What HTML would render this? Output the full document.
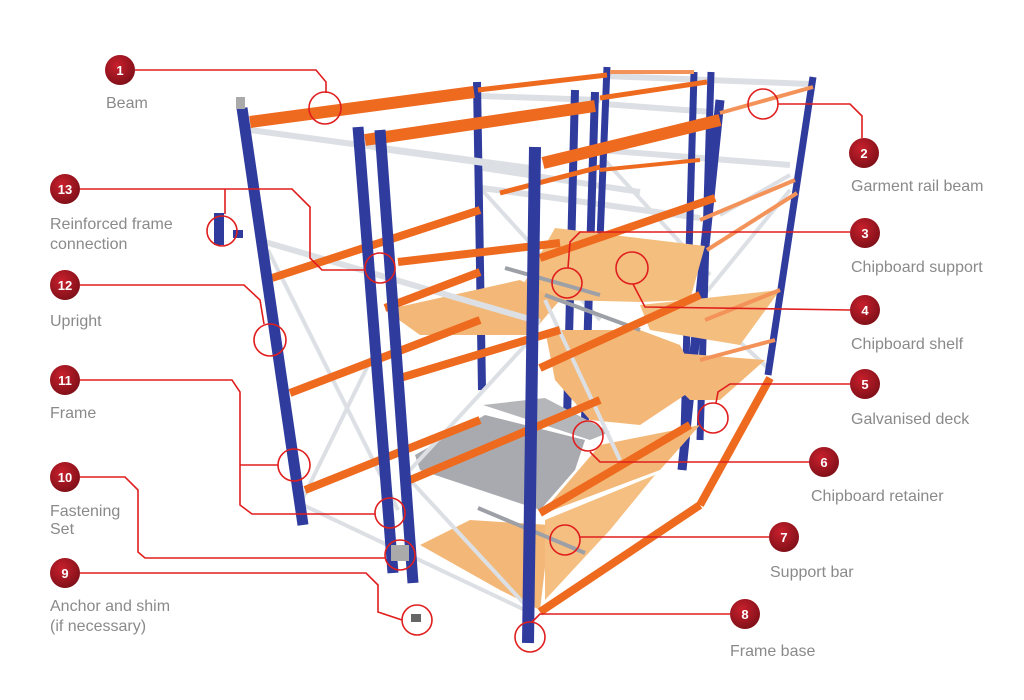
<!DOCTYPE html>
<html><head><meta charset="utf-8"><style>
html,body{margin:0;padding:0;background:#fff;}
svg{display:block;}
text{font-family:"Liberation Sans",sans-serif;}
.lb{fill:#8a8a8a;font-size:16px;}
.n{fill:#fff;font-size:13px;font-weight:bold;text-anchor:middle;}
.c{fill:none;stroke:#e01e1e;stroke-width:1.6;}
.up{stroke:#2f3c9e;stroke-width:11;}
.bu{stroke:#2f3c9e;stroke-width:8;}
.bm{stroke:#ee6a1f;stroke-width:8;}
.bt{stroke:#ee6a1f;stroke-width:12;}
.bl{stroke:#f3935a;stroke-width:4;}
.br{stroke:#dcdfe4;stroke-width:6;}
.bs{stroke:#dcdfe4;stroke-width:4;}
</style></head><body>
<svg width="1024" height="700" viewBox="0 0 1024 700">
<defs><radialGradient id="g" cx="40%" cy="35%" r="70%"><stop offset="0" stop-color="#c8202c"/><stop offset="1" stop-color="#7d0f18"/></radialGradient></defs>
<rect width="1024" height="700" fill="#fff"/>
<!-- back whites -->
<line class="br" x1="605" y1="76" x2="810" y2="84"/>
<line class="br" x1="480" y1="96" x2="600" y2="100"/>
<line class="br" x1="603" y1="104" x2="712" y2="112"/>
<line class="br" x1="600" y1="150" x2="790" y2="165"/>
<line class="br" x1="483" y1="168" x2="640" y2="192"/>
<line class="br" x1="482" y1="188" x2="700" y2="218"/>
<line class="bs" x1="482" y1="190" x2="600" y2="320"/>
<line class="bs" x1="600" y1="155" x2="710" y2="275"/>
<line class="bs" x1="720" y1="215" x2="790" y2="175"/>
<line class="bs" x1="700" y1="300" x2="790" y2="190"/>
<line class="bs" x1="700" y1="305" x2="770" y2="370"/>
<!-- back uprights -->
<line class="bu" x1="477" y1="82" x2="482" y2="390"/>
<line class="bu" x1="575" y1="90" x2="567" y2="420"/>
<line class="bu" x1="595" y1="92" x2="585" y2="420"/>
<line class="bu" x1="607" y1="67" x2="600" y2="240" style="stroke-width:7"/>
<line class="bu" x1="694" y1="72" x2="683" y2="470" style="stroke-width:7"/>
<line class="bu" x1="711" y1="72" x2="700" y2="440" style="stroke-width:7"/>
<line class="bu" x1="720" y1="100" x2="682" y2="470" style="stroke-width:9"/>
<line class="bu" x1="813" y1="77" x2="768" y2="375" style="stroke-width:7"/>
<!-- shelves -->
<polygon points="555,228 705,246 690,300 640,302 560,300 520,290" fill="#f4be7e"/>
<polygon points="640,305 780,290 740,345 650,330" fill="#f4be7e"/>
<polygon points="385,310 520,280 560,300 530,335 420,335" fill="#f3b877"/>
<polygon points="545,330 640,330 680,345 700,385 640,425 590,420 555,380" fill="#f3b877"/>
<polygon points="640,350 765,360 720,400 690,400" fill="#f3b877"/>
<polygon points="415,455 485,415 585,440 575,470 540,510 420,470" fill="#a9aaaf"/>
<polygon points="483,405 545,398 610,432 590,440" fill="#b5b6ba"/>
<polygon points="600,445 700,425 660,470 540,515" fill="#f3b877"/>
<polygon points="420,545 470,520 550,525 540,610 500,590" fill="#f3b877"/>
<polygon points="545,520 655,475 610,530 545,600" fill="#f4bf80"/>
<!-- front-left frame braces -->
<line class="br" x1="250" y1="130" x2="530" y2="168"/>
<line class="br" x1="375" y1="148" x2="535" y2="170"/>
<line class="br" x1="265" y1="242" x2="540" y2="322"/>
<line class="bs" x1="268" y1="250" x2="398" y2="510"/>
<line class="bs" x1="303" y1="498" x2="378" y2="345"/>
<line class="bs" x1="303" y1="505" x2="525" y2="610"/>
<line class="bs" x1="410" y1="480" x2="530" y2="610"/>
<line class="bs" x1="410" y1="470" x2="530" y2="340"/>
<line class="bs" x1="545" y1="300" x2="620" y2="460"/>
<!-- support bars -->
<line stroke="#9da0a6" stroke-width="4" x1="478" y1="508" x2="585" y2="553"/>
<line stroke="#9da0a6" stroke-width="4" x1="505" y1="268" x2="600" y2="295"/>
<line stroke="#9da0a6" stroke-width="4" x1="545" y1="295" x2="640" y2="330"/>
<!-- orange beams -->
<line class="bt" x1="250" y1="122" x2="474" y2="92"/>
<line class="bm" x1="478" y1="90" x2="607" y2="75" style="stroke-width:5"/>
<line class="bt" x1="365" y1="140" x2="595" y2="106"/>
<line class="bm" x1="600" y1="98" x2="707" y2="82" style="stroke-width:5"/>
<line class="bt" x1="543" y1="163" x2="720" y2="120"/>
<line class="bl" x1="720" y1="113" x2="813" y2="87"/>
<line class="bl" x1="610" y1="72" x2="694" y2="72"/>
<line class="bm" x1="272" y1="278" x2="480" y2="210"/>
<line class="bm" x1="398" y1="262" x2="560" y2="243"/>
<line class="bm" x1="385" y1="308" x2="480" y2="272"/>
<line class="bm" x1="500" y1="193" x2="600" y2="167" style="stroke-width:5"/>
<line class="bm" x1="540" y1="258" x2="715" y2="198"/>
<line class="bm" x1="600" y1="170" x2="700" y2="160" style="stroke-width:4"/>
<line class="bl" x1="707" y1="250" x2="797" y2="193"/>
<line class="bl" x1="705" y1="320" x2="780" y2="290"/>
<line class="bl" x1="700" y1="220" x2="795" y2="180"/>
<line class="bl" x1="700" y1="360" x2="775" y2="340"/>
<line class="bm" x1="290" y1="393" x2="480" y2="320"/>
<line class="bm" x1="400" y1="378" x2="560" y2="330"/>
<line class="bm" x1="540" y1="368" x2="700" y2="295"/>
<line class="bm" x1="305" y1="490" x2="480" y2="420"/>
<line class="bm" x1="410" y1="480" x2="600" y2="400"/>
<line class="bm" x1="540" y1="513" x2="690" y2="425"/>
<line class="bm" x1="540" y1="612" x2="700" y2="505"/>
<line class="bm" x1="700" y1="505" x2="770" y2="378"/>
<!-- front uprights -->
<line class="up" x1="242" y1="108" x2="303" y2="525"/>
<line class="up" x1="358" y1="127" x2="393" y2="573"/>
<line class="up" x1="380" y1="130" x2="413" y2="583"/>
<line class="up" x1="535" y1="147" x2="528" y2="643" style="stroke-width:12"/>
<rect x="236" y="97" width="9" height="12" fill="#aaa"/>
<rect x="214" y="213" width="10" height="32" fill="#2f3c9e"/>
<rect x="233" y="230" width="10" height="8" fill="#2f3c9e"/>
<rect x="391" y="545" width="18" height="16" fill="#aaa"/>
<rect x="411" y="614" width="10" height="8" fill="#666"/>
<!-- connectors -->
<g class="c">
<polyline points="135,70 316,70 326,82 326,93"/><circle cx="325" cy="108" r="16"/>
<polyline points="778,104 850,104 862,116 862,138"/><circle cx="763" cy="104" r="15"/>
<polyline points="80,189 292,189 310,207 310,258 322,270 365,270"/><circle cx="380" cy="268" r="15"/>
<polyline points="225,189 225,214"/><circle cx="222" cy="231" r="15"/>
<polyline points="80,285 244,285 260,300 264,324"/><circle cx="270" cy="340" r="16"/>
<polyline points="80,380 232,380 240,392 240,505 252,514 375,514"/><circle cx="390" cy="513" r="15"/>
<polyline points="240,465 278,465"/><circle cx="294" cy="465" r="16"/>
<polyline points="80,477 125,477 138,490 138,552 145,558 385,558"/><circle cx="400" cy="555" r="15"/>
<polyline points="80,573 366,573 378,585 378,612 402,620"/><circle cx="417" cy="620" r="15"/>
<polyline points="850,232 580,232 570,242 568,268"/><circle cx="567" cy="283" r="15"/>
<polyline points="850,310 645,307 633,284"/><circle cx="632" cy="268" r="16"/>
<polyline points="850,384 730,384 718,392 716,403"/><circle cx="713" cy="418" r="15"/>
<polyline points="810,462 600,462 590,452"/><circle cx="588" cy="436" r="15"/>
<polyline points="769,537 580,537"/><circle cx="565" cy="540" r="15"/>
<polyline points="730,614 540,614 532,622"/><circle cx="530" cy="637" r="15"/>
</g>
<!-- badges -->
<g>
<circle cx="120" cy="70" r="15" fill="url(#g)"/><text class="n" x="120" y="75">1</text>
<circle cx="864" cy="153" r="15" fill="url(#g)"/><text class="n" x="864" y="158">2</text>
<circle cx="865" cy="233" r="15" fill="url(#g)"/><text class="n" x="865" y="238">3</text>
<circle cx="865" cy="310" r="15" fill="url(#g)"/><text class="n" x="865" y="315">4</text>
<circle cx="865" cy="384" r="15" fill="url(#g)"/><text class="n" x="865" y="389">5</text>
<circle cx="824" cy="462" r="15" fill="url(#g)"/><text class="n" x="824" y="467">6</text>
<circle cx="784" cy="537" r="15" fill="url(#g)"/><text class="n" x="784" y="542">7</text>
<circle cx="745" cy="614" r="15" fill="url(#g)"/><text class="n" x="745" y="619">8</text>
<circle cx="65" cy="573" r="15" fill="url(#g)"/><text class="n" x="65" y="578">9</text>
<circle cx="65" cy="477" r="15" fill="url(#g)"/><text class="n" x="65" y="482">10</text>
<circle cx="65" cy="380" r="15" fill="url(#g)"/><text class="n" x="65" y="385">11</text>
<circle cx="65" cy="285" r="15" fill="url(#g)"/><text class="n" x="65" y="290">12</text>
<circle cx="65" cy="189" r="15" fill="url(#g)"/><text class="n" x="65" y="194">13</text>
</g>
<g class="lb">
<text x="106" y="108">Beam</text>
<text x="50" y="229">Reinforced frame</text>
<text x="50" y="249">connection</text>
<text x="50" y="326">Upright</text>
<text x="50" y="418">Frame</text>
<text x="50" y="516">Fastening</text>
<text x="50" y="534">Set</text>
<text x="50" y="611">Anchor and shim</text>
<text x="50" y="631">(if necessary)</text>
<text x="851" y="191">Garment rail beam</text>
<text x="851" y="272">Chipboard support</text>
<text x="851" y="349">Chipboard shelf</text>
<text x="851" y="424">Galvanised deck</text>
<text x="811" y="501">Chipboard retainer</text>
<text x="770" y="577">Support bar</text>
<text x="730" y="656">Frame base</text>
</g>
</svg>
</body></html>
